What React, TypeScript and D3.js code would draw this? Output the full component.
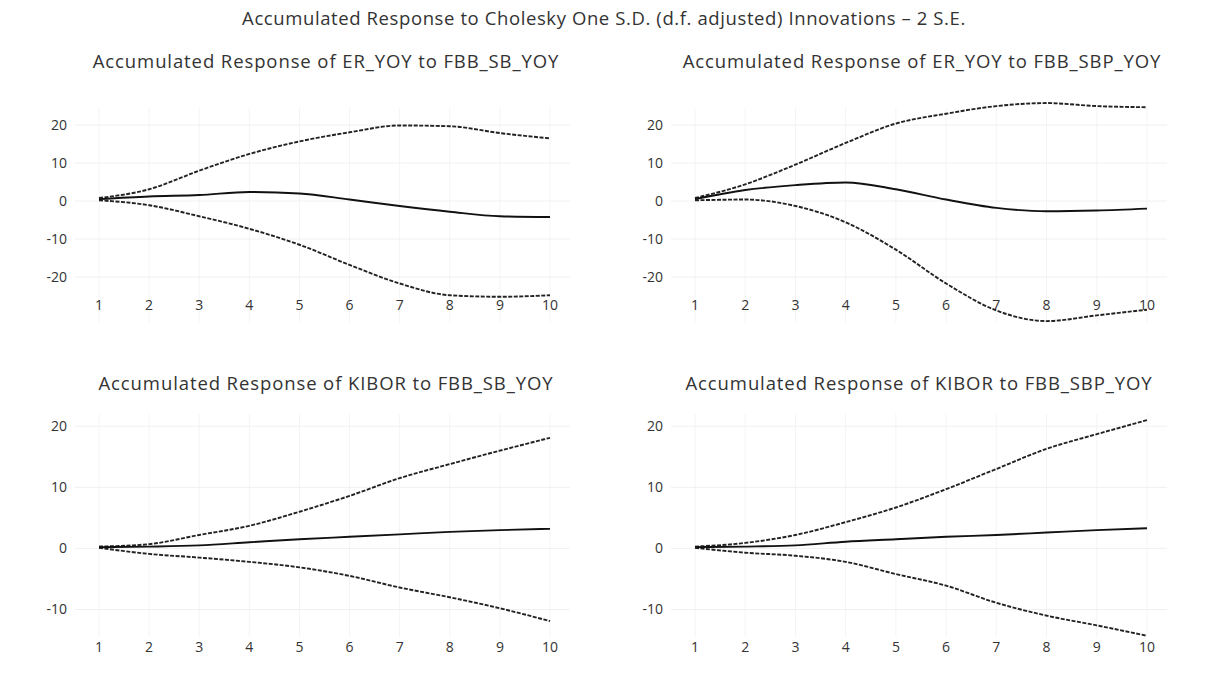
import React from 'react';
import * as d3 from 'd3';

// periods on the x axis
const periods = [1, 2, 3, 4, 5, 6, 7, 8, 9, 10];

// ER_YOY to FBB_SB_YOY
const erSbResp = [0.5, 1.2, 1.6, 2.4, 2.0, 0.4, -1.3, -2.8, -4.0, -4.2];
const erSbUpper = [0.8, 3.1, 8.0, 12.4, 15.7, 18.1, 19.9, 19.7, 17.9, 16.5];
const erSbLower = [0.2, -1.1, -4.0, -7.3, -11.5, -16.8, -21.7, -24.8, -25.2, -24.8];

// ER_YOY to FBB_SBP_YOY
const erSbpResp = [0.5, 2.9, 4.2, 4.9, 3.1, 0.4, -1.8, -2.7, -2.5, -2.0];
const erSbpUpper = [0.8, 4.4, 9.6, 15.3, 20.4, 23.0, 25.0, 25.8, 25.0, 24.7];
const erSbpLower = [0.2, 0.4, -1.3, -5.6, -12.8, -21.7, -28.8, -31.6, -30.1, -28.6];

// KIBOR to FBB_SB_YOY
const kiSbResp = [0.2, 0.3, 0.5, 1.0, 1.5, 1.9, 2.3, 2.7, 3.0, 3.2];
const kiSbUpper = [0.3, 0.7, 2.2, 3.7, 6.0, 8.6, 11.5, 13.8, 16.0, 18.1];
const kiSbLower = [0.1, -0.9, -1.5, -2.2, -3.1, -4.5, -6.4, -8.0, -9.8, -11.9];

// KIBOR to FBB_SBP_YOY
const kiSbpResp = [0.2, 0.3, 0.5, 1.1, 1.5, 1.9, 2.2, 2.6, 3.0, 3.3];
const kiSbpUpper = [0.3, 0.9, 2.2, 4.3, 6.7, 9.7, 13.0, 16.3, 18.7, 21.0];
const kiSbpLower = [0.1, -0.7, -1.2, -2.2, -4.2, -6.1, -8.9, -11.0, -12.6, -14.3];

const topTicks = [20, 10, 0, -10, -20];
const bottomTicks = [20, 10, 0, -10];

const FONT = "'Open Sans', 'Liberation Sans', sans-serif";
const TEXT = '#333';

type PanelProps = {
  title: string;
  titleX: number;
  titleY: number;
  x0: number;
  x1: number;
  yTop: number;
  yBottom: number;
  domain: [number, number];
  ticks: number[];
  resp: number[];
  upper: number[];
  lower: number[];
  xLabelY: number;
};

function Panel(p: PanelProps) {
  const x = d3.scaleLinear().domain([1, 10]).range([p.x0, p.x1]);
  const y = d3.scaleLinear().domain(p.domain).range([p.yBottom, p.yTop]);
  const line = d3
    .line<number>()
    .x((_, i) => x(periods[i]))
    .y((d) => y(d))
    .curve(d3.curveMonotoneX);

  const gridLeft = p.x0 - 24;
  const gridRight = p.x1 + 20;

  return (
    <g>
      <text
        x={p.titleX}
        y={p.titleY}
        textAnchor="middle"
        fontSize={18.5}
        letterSpacing={0.9}
        fill={TEXT}
        fontFamily={FONT}
      >
        {p.title}
      </text>
      {periods.map((t) => (
        <line
          key={'v' + t}
          x1={x(t)}
          x2={x(t)}
          y1={p.yTop}
          y2={p.yBottom}
          stroke="#f4f4f4"
          strokeWidth={1}
        />
      ))}
      {p.ticks.map((t) => (
        <line
          key={'h' + t}
          x1={gridLeft}
          x2={gridRight}
          y1={y(t)}
          y2={y(t)}
          stroke="#f0f0f0"
          strokeWidth={1}
        />
      ))}
      {p.ticks.map((t) => (
        <text
          key={'yl' + t}
          x={p.x0 - 32}
          y={y(t)}
          dy="0.35em"
          textAnchor="end"
          fontSize={14}
          fill={TEXT}
          fontFamily={FONT}
        >
          {t}
        </text>
      ))}
      {periods.map((t) => (
        <text
          key={'xl' + t}
          x={x(t)}
          y={p.xLabelY}
          dy="0.35em"
          textAnchor="middle"
          fontSize={14}
          fill={TEXT}
          fontFamily={FONT}
        >
          {t}
        </text>
      ))}
      <path d={line(p.upper) || ''} fill="none" stroke="#222" strokeWidth={1.9} strokeDasharray="4 1.5" />
      <path d={line(p.lower) || ''} fill="none" stroke="#222" strokeWidth={1.9} strokeDasharray="4 1.5" />
      <path d={line(p.resp) || ''} fill="none" stroke="#111" strokeWidth={1.9} />
    </g>
  );
}

export default function App() {
  const W = 1207;
  const H = 684;
  const left = { x0: 99, x1: 550 };
  const right = { x0: 695, x1: 1147 };
  const row1 = { yTop: 108, yBottom: 322.6, domain: [-32, 24.5] as [number, number], ticks: topTicks, titleY: 68, xLabelY: 305 };
  const row2 = { yTop: 414, yBottom: 637, domain: [-14.5, 22] as [number, number], ticks: bottomTicks, titleY: 390, xLabelY: 647 };

  return (
    <svg
      width={W}
      height={H}
      style={{ position: 'absolute', left: 0, top: 0, background: '#fff' }}
    >
      <rect width={W} height={H} fill="#fff" />
      <text x={604} y={25} textAnchor="middle" fontSize={18.5} letterSpacing={0.6} fill={TEXT} fontFamily={FONT}>
        Accumulated Response to Cholesky One S.D. (d.f. adjusted) Innovations – 2 S.E.
      </text>
      <Panel
        title="Accumulated Response of ER_YOY to FBB_SB_YOY"
        titleX={326}
        {...left}
        {...row1}
        resp={erSbResp}
        upper={erSbUpper}
        lower={erSbLower}
      />
      <Panel
        title="Accumulated Response of ER_YOY to FBB_SBP_YOY"
        titleX={922}
        {...right}
        {...row1}
        resp={erSbpResp}
        upper={erSbpUpper}
        lower={erSbpLower}
      />
      <Panel
        title="Accumulated Response of KIBOR to FBB_SB_YOY"
        titleX={326}
        {...left}
        {...row2}
        resp={kiSbResp}
        upper={kiSbUpper}
        lower={kiSbLower}
      />
      <Panel
        title="Accumulated Response of KIBOR to FBB_SBP_YOY"
        titleX={919}
        {...right}
        {...row2}
        resp={kiSbpResp}
        upper={kiSbpUpper}
        lower={kiSbpLower}
      />
    </svg>
  );
}
